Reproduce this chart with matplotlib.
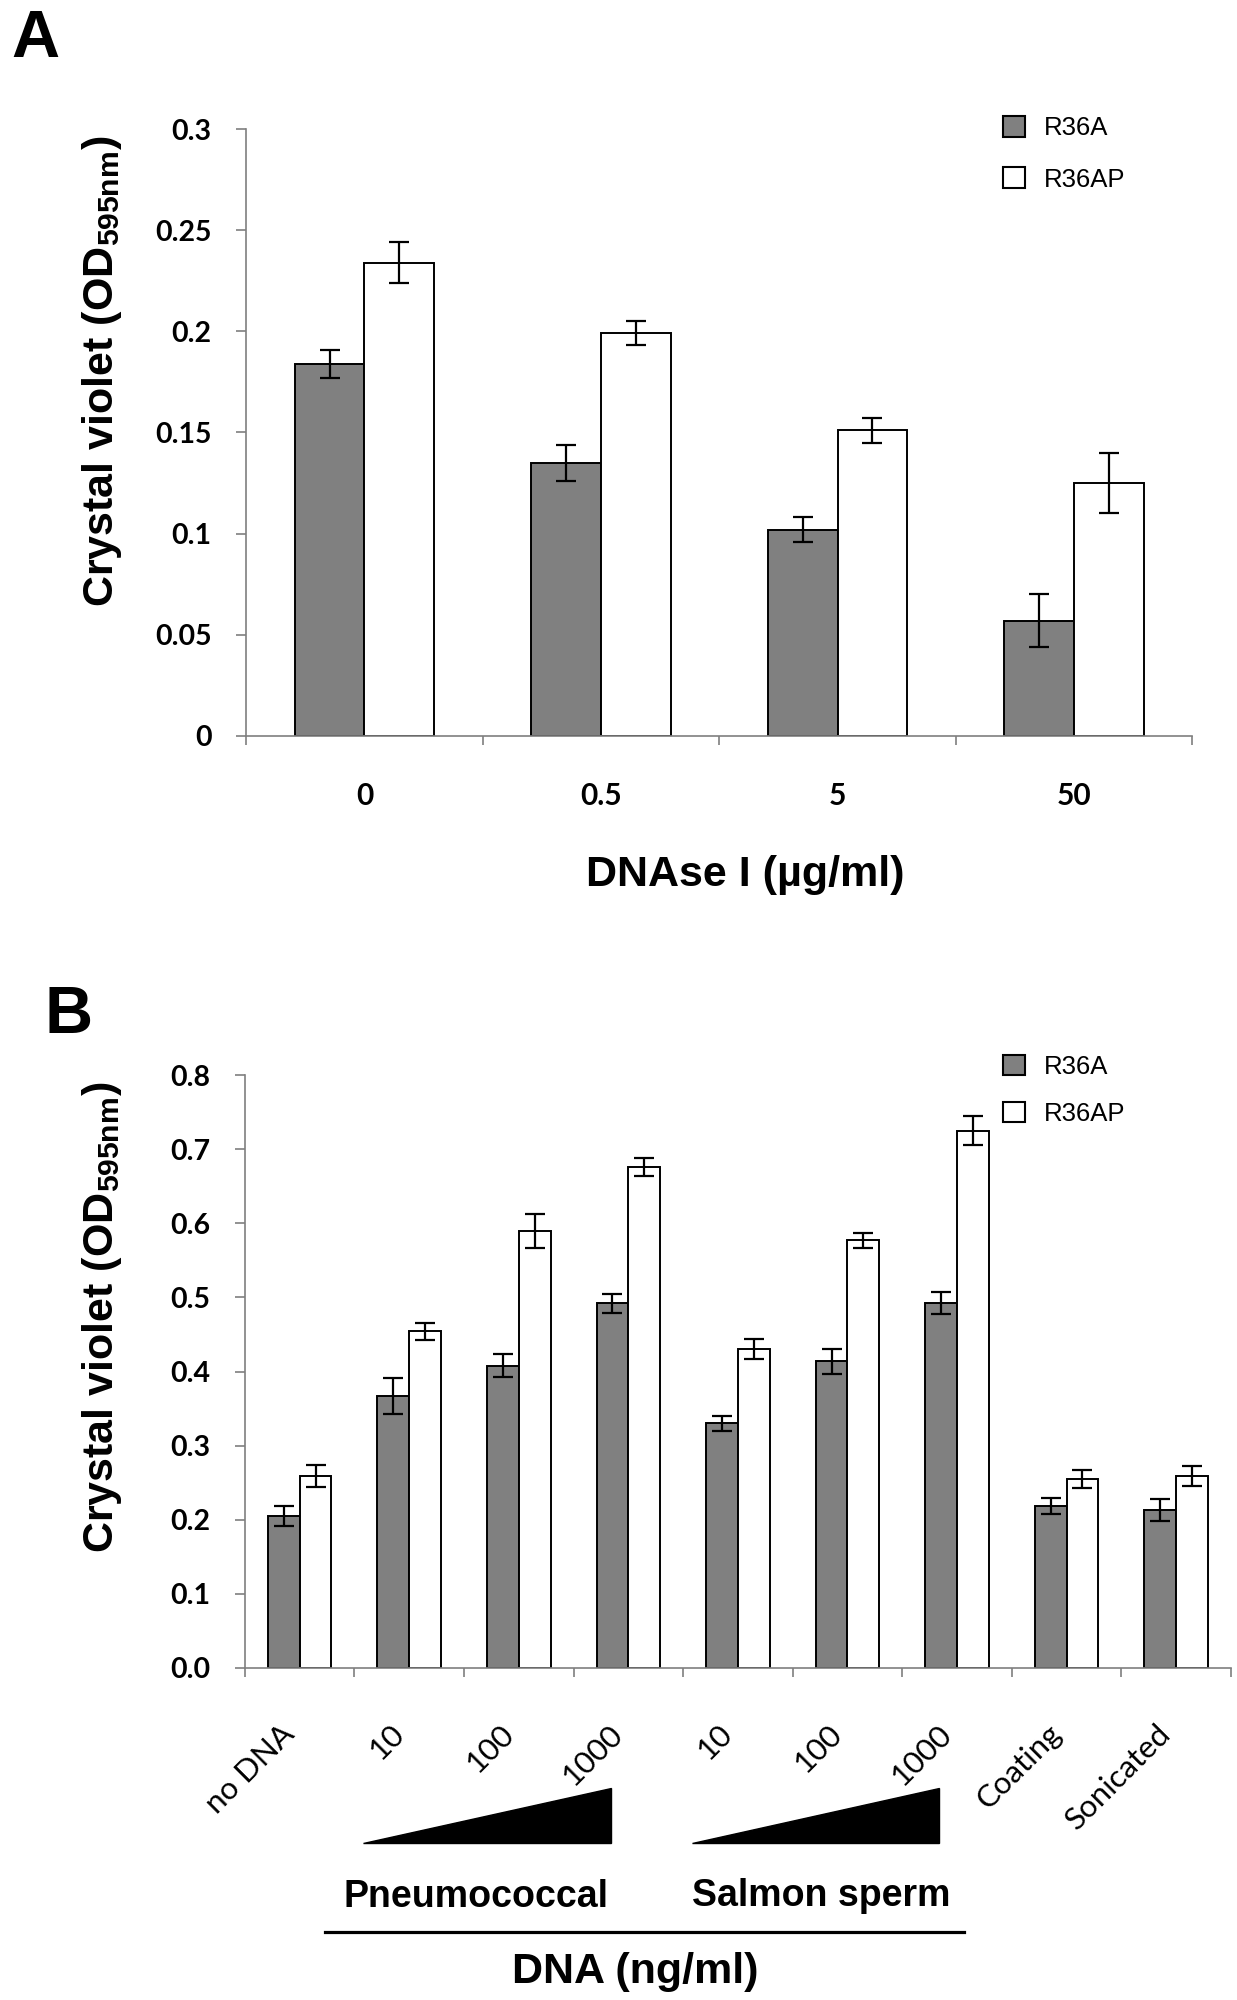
"""
Biofilm crystal violet staining: DNAse I treatment (A) and DNA addition (B).
"""

import matplotlib

matplotlib.use("Agg")

import matplotlib.pyplot as plt
import numpy as np
from matplotlib.patches import Patch, Polygon
from matplotlib.lines import Line2D
from matplotlib.transforms import blended_transform_factory

plt.rcParams["mathtext.fontset"] = "custom"
plt.rcParams["mathtext.rm"] = "Liberation Sans"
plt.rcParams["mathtext.bf"] = "Liberation Sans:bold"

# Panel A: DNAse I dose (ug/ml)
dnase_doses = ["0", "0.5", "5", "50"]
a_r36a = [0.184, 0.135, 0.102, 0.057]
a_r36a_err = [0.007, 0.009, 0.006, 0.013]
a_r36ap = [0.234, 0.199, 0.151, 0.125]
a_r36ap_err = [0.010, 0.006, 0.006, 0.015]

# Panel B: added DNA (ng/ml)
dna_labels = ["no DNA", "10", "100", "1000", "10", "100", "1000",
              "Coating", "Sonicated"]
b_r36a = [0.205, 0.367, 0.408, 0.492, 0.330, 0.414, 0.492, 0.219, 0.213]
b_r36a_err = [0.0135, 0.024, 0.015, 0.013, 0.010, 0.017, 0.015, 0.011, 0.015]
b_r36ap = [0.259, 0.454, 0.589, 0.676, 0.430, 0.577, 0.725, 0.255, 0.259]
b_r36ap_err = [0.015, 0.012, 0.023, 0.012, 0.0135, 0.0105, 0.020, 0.012, 0.014]

# index ranges of the two DNA dose series in panel B
dose_groups = [(1, 3), (4, 6)]

GREY = "#808080"
AXIS_GREY = "#7f7f7f"
TICK_FONT = "Lato"
LABEL_FONT = "Liberation Sans"
YLABEL = r"Crystal violet (OD$_{\mathbf{595nm}}$)"


def draw_pairs(ax, labels, r36a, r36a_err, r36ap, r36ap_err, width):
    x = np.arange(len(labels))
    ax.bar(x - width / 2, r36a, width, color=GREY, edgecolor="black",
           linewidth=1.4, label="R36A", zorder=2)
    ax.bar(x + width / 2, r36ap, width, color="white", edgecolor="black",
           linewidth=1.4, label="R36AP", zorder=2)
    ax.errorbar(x - width / 2, r36a, yerr=r36a_err, fmt="none", ecolor="black",
                elinewidth=1.6, capsize=7, capthick=1.6, zorder=3)
    ax.errorbar(x + width / 2, r36ap, yerr=r36ap_err, fmt="none", ecolor="black",
                elinewidth=1.6, capsize=7, capthick=1.6, zorder=3)

    ax.set_xlim(-0.5, len(labels) - 0.5)
    for side in ["top", "right"]:
        ax.spines[side].set_visible(False)
    for side in ["left", "bottom"]:
        ax.spines[side].set_color(AXIS_GREY)
        ax.spines[side].set_linewidth(1.2)

    # Excel style: labels at category centres, tick marks between categories
    ax.set_xticks(x)
    ax.set_xticks(np.arange(len(labels) + 1) - 0.5, minor=True)
    ax.tick_params(axis="x", which="major", length=0)
    ax.tick_params(axis="x", which="minor", length=6.5, width=1.2,
                   color=AXIS_GREY, direction="out")
    ax.tick_params(axis="y", length=7, width=1.2, color=AXIS_GREY,
                   direction="out", pad=18)
    for lab in ax.get_yticklabels():
        lab.set_fontfamily(TICK_FONT)
        lab.set_fontweight("bold")
        lab.set_fontsize(20.5)


def add_legend(ax, anchor, spacing):
    handles = [Patch(facecolor=GREY, edgecolor="black", linewidth=1.5),
               Patch(facecolor="white", edgecolor="black", linewidth=1.5)]
    ax.legend(handles, ["R36A", "R36AP"], loc="upper left",
              bbox_to_anchor=anchor, frameon=False, borderpad=0,
              borderaxespad=0, handlelength=0.85, handleheight=0.85,
              handletextpad=0.75, labelspacing=spacing,
              prop={"family": LABEL_FONT, "size": 18.5})


fig = plt.figure(figsize=(12.37, 20), dpi=100)

# ---------------- Panel A ----------------
axA = fig.add_axes([0.199, 0.632, 0.765, 0.3035])
axA.set_ylim(0, 0.3)
axA.set_yticks(np.arange(0, 0.301, 0.05))
axA.set_yticklabels(["0", "0.05", "0.1", "0.15", "0.2", "0.25", "0.3"])
draw_pairs(axA, dnase_doses, a_r36a, a_r36a_err, a_r36ap, a_r36ap_err, 0.295)
axA.set_xticklabels(dnase_doses, fontfamily=TICK_FONT, fontweight="bold",
                    fontsize=21.5)
axA.tick_params(axis="x", which="major", pad=33)
add_legend(axA, (0.800, 1.021), 1.05)

fig.text(0.0825, 0.8145, YLABEL, rotation=90, ha="center", va="center",
         rotation_mode="anchor", fontfamily=LABEL_FONT, fontweight="bold",
         fontsize=31)
fig.text(745 / 1237, 1 - 886 / 2000, "DNAse I (µg/ml)", ha="center",
         va="baseline", fontfamily=LABEL_FONT, fontweight="bold", fontsize=31)
fig.text(0.009, 0.9715, "A", ha="left", va="baseline",
         fontfamily=LABEL_FONT, fontweight="bold", fontsize=48)

# ---------------- Panel B ----------------
axB = fig.add_axes([0.198, 0.166, 0.797, 0.2965])
axB.set_ylim(0, 0.8)
axB.set_yticks(np.arange(0, 0.801, 0.1))
axB.set_yticklabels([f"{v:.1f}" for v in np.arange(0, 0.801, 0.1)])
draw_pairs(axB, dna_labels, b_r36a, b_r36a_err, b_r36ap, b_r36ap_err, 0.29)
axB.set_xticklabels(dna_labels, rotation=45, ha="right", va="top",
                    fontfamily=TICK_FONT, fontsize=22.5)
axB.tick_params(axis="x", which="major", pad=37)
add_legend(axB, (0.769, 1.034), 0.88)

# dose wedges under the two DNA series
trans = blended_transform_factory(axB.transData, axB.transAxes)
for start, end in dose_groups:
    x0, x1 = start - 0.42, end - 0.16
    wedge = Polygon([(x0, -0.295), (x1, -0.295), (x1, -0.2024)],
                    closed=True, facecolor="black", edgecolor="black",
                    transform=trans, clip_on=False)
    axB.add_patch(wedge)

fig.text(476 / 1237, 1 - 1907 / 2000, "Pneumococcal", ha="center",
         va="baseline", fontfamily=LABEL_FONT, fontweight="bold", fontsize=27)
fig.text(821 / 1237, 1 - 1906 / 2000, "Salmon sperm", ha="center",
         va="baseline", fontfamily=LABEL_FONT, fontweight="bold", fontsize=27)
fig.add_artist(Line2D([325 / 1237, 964 / 1237], [1 - 1932 / 2000] * 2,
                      color="black", linewidth=2.3, transform=fig.transFigure))
fig.text(635 / 1237, 1 - 1983 / 2000, "DNA (ng/ml)", ha="center",
         va="baseline", fontfamily=LABEL_FONT, fontweight="bold", fontsize=31)

fig.text(0.0825, 1 - 1317 / 2000, YLABEL, rotation=90, ha="center",
         va="center", rotation_mode="anchor", fontfamily=LABEL_FONT,
         fontweight="bold", fontsize=31)
fig.text(0.036, 1 - 1033 / 2000, "B", ha="left", va="baseline",
         fontfamily=LABEL_FONT, fontweight="bold", fontsize=48)

fig.savefig("out.png", dpi=100)
